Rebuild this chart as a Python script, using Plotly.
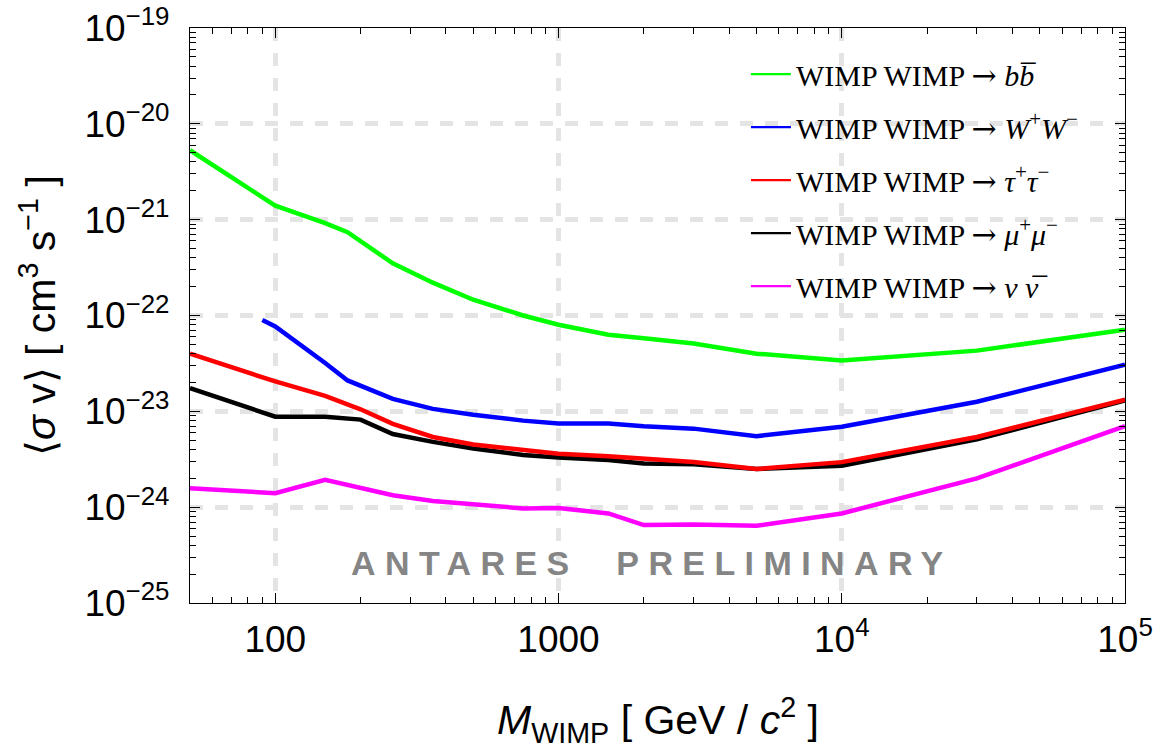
import plotly.graph_objects as go
import numpy as np

# ---------------- data ----------------
m_bb = [50, 100, 150, 180, 260, 360, 500, 750, 1000, 1500, 2000, 3000, 5000, 10000, 30000, 100000]
sv_bb = [5.3e-21, 1.4e-21, 9.2e-22, 7.4e-22, 3.5e-22, 2.2e-22, 1.46e-22, 1.0e-22, 8.0e-23,
         6.3e-23, 5.8e-23, 5.1e-23, 4.0e-23, 3.4e-23, 4.3e-23, 7.1e-23]

m_ww = [90, 100, 150, 180, 260, 360, 500, 750, 1000, 1500, 2000, 3000, 5000, 10000, 30000, 100000]
sv_ww = [9.0e-23, 7.7e-23, 3.2e-23, 2.1e-23, 1.35e-23, 1.06e-23, 9.2e-24, 8.0e-24, 7.45e-24,
         7.45e-24, 7.0e-24, 6.6e-24, 5.5e-24, 6.9e-24, 1.26e-23, 3.06e-23]

m_tt = [50, 100, 150, 200, 260, 360, 500, 750, 1000, 1500, 3000, 5000, 10000, 30000, 100000]
sv_tt = [4.0e-23, 2.05e-23, 1.45e-23, 1.05e-23, 7.4e-24, 5.4e-24, 4.5e-24, 3.9e-24, 3.6e-24,
         3.4e-24, 2.96e-24, 2.5e-24, 2.95e-24, 5.4e-24, 1.32e-23]

m_mm = [50, 100, 150, 180, 200, 260, 360, 500, 750, 1000, 1500, 2000, 3000, 5000, 10000, 30000, 100000]
sv_mm = [1.75e-23, 8.8e-24, 8.8e-24, 8.3e-24, 8.2e-24, 5.8e-24, 4.8e-24, 4.1e-24, 3.5e-24,
         3.3e-24, 3.1e-24, 2.85e-24, 2.8e-24, 2.5e-24, 2.7e-24, 5.1e-24, 1.3e-23]

m_nn = [50, 100, 150, 260, 360, 500, 750, 1000, 1500, 2000, 3000, 5000, 10000, 30000, 100000]
sv_nn = [1.58e-24, 1.4e-24, 1.93e-24, 1.33e-24, 1.16e-24, 1.07e-24, 9.7e-25, 9.8e-25, 8.6e-25,
         6.5e-25, 6.6e-25, 6.4e-25, 8.6e-25, 2.0e-24, 7.0e-24]

x_tickvals = [100, 1000, 1e4, 1e5]
x_ticktext = ["100", "1000", "10<sup>4</sup>", "10<sup>5</sup>"]
y_exponents = [-25, -24, -23, -22, -21, -20, -19]

# ---------------- styling ----------------
SANS = "Liberation Sans"
SERIF = "Liberation Serif"

x_minor = [v * 10 ** e for e in range(1, 5) for v in range(2, 10)]
x_minor = [v for v in x_minor if 50 < v < 1e5]
y_minor = [v * 10.0 ** e for e in range(-25, -19) for v in range(2, 10)]

ARROW = "<span style='font-family:DejaVu Serif'>\u2192</span>"
series = [
    ("WIMP WIMP " + ARROW + " <i>b</i><i>b\u0305</i>", m_bb, sv_bb, "#00ff00", 1),
    ("WIMP WIMP " + ARROW + " <i>W</i><sup>+</sup><i>W</i><sup>\u2212</sup>", m_ww, sv_ww, "#0000ff", 2),
    ("WIMP WIMP " + ARROW + " <i>\u03bc</i><sup>+</sup><i>\u03bc</i><sup>\u2212</sup>", m_mm, sv_mm, "#000000", 4),
    ("WIMP WIMP " + ARROW + " <i>\u03c4</i><sup>+</sup><i>\u03c4</i><sup>\u2212</sup>", m_tt, sv_tt, "#ff0000", 3),
    ("WIMP WIMP " + ARROW + " <i>\u03bd</i> <i>\u03bd\u0305</i>", m_nn, sv_nn, "#ff00ff", 5),
]

fig = go.Figure()
for name, xs, ys, col, rank in series:
    # curve (thick)
    fig.add_trace(go.Scatter(
        x=xs, y=ys, mode="lines", name=name,
        line=dict(color=col, width=4.5),
        showlegend=False, legendgroup=name,
    ))
for name, xs, ys, col, rank in series:
    # legend key (thin line, as in the reference)
    fig.add_trace(go.Scatter(
        x=[None], y=[None], mode="lines", name=name,
        line=dict(color=col, width=2.2),
        legendrank=rank, legendgroup=name, showlegend=True,
    ))

grid = dict(showgrid=True, gridcolor="#e4e4e4", gridwidth=5, griddash="13px,12px")

fig.update_layout(
    width=1164, height=749,
    margin=dict(l=190, r=39, t=28, b=146, autoexpand=False),
    paper_bgcolor="white", plot_bgcolor="white",
    showlegend=True,
    legend=dict(
        x=0.5946, y=0.965, xanchor="left", yanchor="top",
        font=dict(family=SERIF, size=30, color="black"),
        bgcolor="rgba(0,0,0,0)", tracegroupgap=11,
        itemwidth=40,
    ),
    xaxis=dict(
        type="log", range=[np.log10(50), 5], automargin=False,
        tickmode="array", tickvals=x_tickvals, ticktext=x_ticktext,
        ticks="inside", ticklen=10, tickwidth=1, tickcolor="black",
        showline=True, linecolor="black", linewidth=1.2, mirror="allticks",
        tickfont=dict(family=SANS, size=37, color="black"),
        ticklabelstandoff=3,
        minor=dict(tickmode="array", tickvals=x_minor, ticks="inside", ticklen=6,
                   tickwidth=1, tickcolor="black", showgrid=False),
        zeroline=False, **grid,
    ),
    yaxis=dict(
        type="log", range=[-25, -19], automargin=False,
        tickmode="array", tickvals=[10.0 ** e for e in y_exponents],
        ticktext=["10<sup>\u2212%d</sup>" % (-e) for e in y_exponents],
        ticks="inside", ticklen=10, tickwidth=1, tickcolor="black",
        showline=True, linecolor="black", linewidth=1.2, mirror="allticks",
        tickfont=dict(family=SANS, size=37, color="black"),
        ticklabelstandoff=12,
        minor=dict(tickmode="array", tickvals=y_minor, ticks="inside", ticklen=6,
                   tickwidth=1, tickcolor="black", showgrid=False),
        zeroline=False, **grid,
    ),
)

# axis titles
fig.add_annotation(
    text="\u27e8<i>\u03c3</i> v\u27e9 [ cm<sup>3</sup> s<sup>\u22121</sup> ]",
    xref="paper", yref="paper", x=(38 - 190) / 935, y=(603 - 316) / 575,
    xanchor="center", yanchor="middle", textangle=-90, showarrow=False,
    font=dict(family=SANS, size=41, color="black"),
)
fig.add_annotation(
    text="<i>M</i><sub>WIMP</sub> [ GeV / <i>c</i><sup>2</sup> ]",
    xref="paper", yref="paper", x=(658 - 190) / 935, y=-(720 - 603) / 575,
    xanchor="center", yanchor="middle", showarrow=False,
    font=dict(family=SANS, size=41, color="black"),
)
# watermark
fig.add_annotation(
    text="<span style='letter-spacing:9.4px'><b>ANTARES  PRELIMINARY</b></span>",
    xref="paper", yref="paper", x=(652 - 190) / 935, y=(603 - 563) / 575,
    xanchor="center", yanchor="middle", showarrow=False,
    font=dict(family=SANS, size=34, color="#858585"),
)

# remove the default 8px page margin so the figure sits at the window's top-left corner
fig.write_html("out.html", config={"displayModeBar": False},
               post_script="document.body.style.margin='0';")
